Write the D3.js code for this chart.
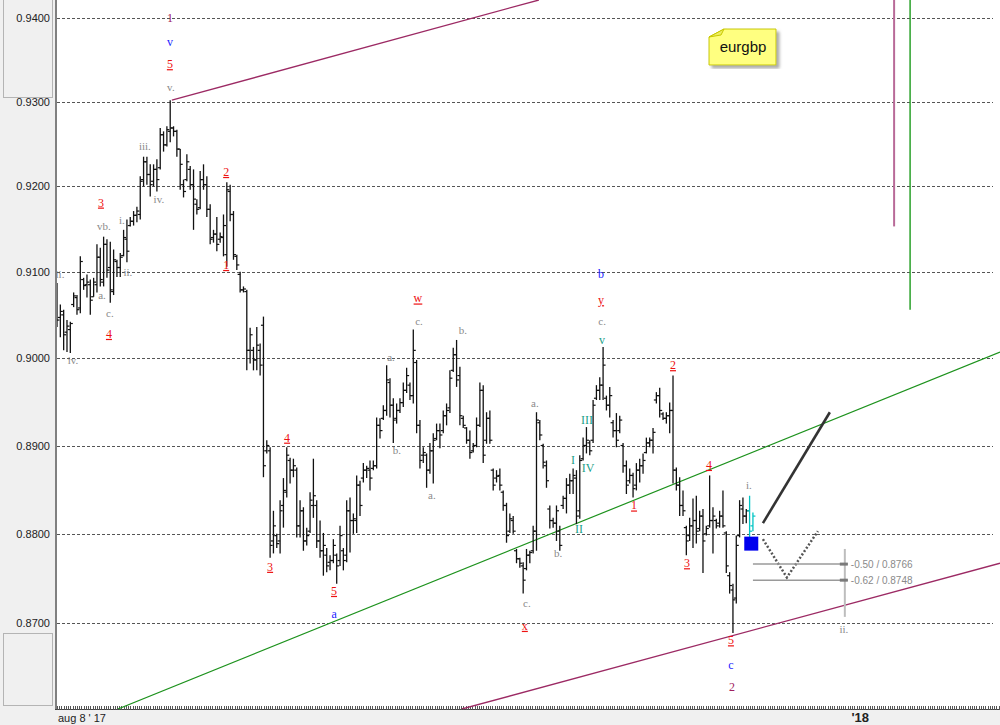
<!DOCTYPE html>
<html><head><meta charset="utf-8">
<script src="https://cdn.jsdelivr.net/npm/d3@7"></script>
<style>html,body{margin:0;padding:0;background:#fff;} svg{display:block;}</style>
</head><body><svg id="c" width="1000" height="725"></svg>
<script>
// ---------- DATA ----------
const symbol = "eurgbp";
const highs = [
0.9087,0.9062,0.9056,0.9044,0.9042,0.9076,0.9073,0.9118,0.9093,0.9097,
0.9091,0.9093,0.9132,0.9128,0.9141,0.9138,0.9135,0.9126,0.9114,0.9122,
0.9149,0.9161,0.9164,0.9171,0.9176,0.9212,0.9235,0.9235,0.9226,0.9226,
0.9232,0.9269,0.9265,0.9271,0.9302,0.9271,0.9267,0.9244,0.9208,0.9238,
0.9224,0.9220,0.9185,0.9218,0.9226,0.9212,0.9179,0.9149,0.9164,0.9146,
0.9167,0.9205,0.9202,0.9171,0.9120,0.9100,0.9083,0.9079,0.9035,0.9013,
0.9036,0.9017,0.9048,0.8906,0.8898,0.8826,0.8800,0.8838,0.8863,0.8898,
0.8886,0.8885,0.8875,0.8838,0.8830,0.8807,0.8847,0.8885,0.8838,0.8815,
0.8801,0.8784,0.8776,0.8794,0.8778,0.8809,0.8784,0.8838,0.8841,0.8823,
0.8866,0.8860,0.8880,0.8877,0.8883,0.8883,0.8932,0.8931,0.8946,0.8992,
0.8977,0.8954,0.8948,0.8954,0.8972,0.8989,0.8972,0.9033,0.8998,0.8929,
0.8898,0.8891,0.8903,0.8914,0.8925,0.8925,0.8940,0.8948,0.8986,0.9012,
0.9021,0.8990,0.8934,0.8921,0.8917,0.8903,0.8932,0.8972,0.8969,0.8938,
0.8940,0.8874,0.8872,0.8874,0.8849,0.8835,0.8823,0.8820,0.8783,0.8773,
0.8768,0.8783,0.8781,0.8809,0.8938,0.8929,0.8902,0.8883,0.8832,0.8818,
0.8832,0.8809,0.8843,0.8863,0.8868,0.8874,0.8872,0.8889,0.8909,0.8921,
0.8906,0.8952,0.8969,0.8978,0.9013,0.8957,0.8967,0.8929,0.8937,0.8934,
0.8903,0.8883,0.8874,0.8869,0.8880,0.8885,0.8891,0.8909,0.8909,0.8920,
0.8961,0.8966,0.8938,0.8938,0.8949,0.8980,0.8875,0.8864,0.8849,0.8809,
0.8818,0.8840,0.8843,0.8826,0.8828,0.8809,0.8866,0.8830,0.8817,0.8826,
0.8849,0.8803,0.8757,0.8744,0.8798,0.8838,0.8841,0.8828,0.8843,0.8824];
const lows = [
0.9036,0.9024,0.9009,0.9007,0.9006,0.9059,0.9050,0.9052,0.9079,0.9070,
0.9050,0.9071,0.9076,0.9083,0.9083,0.9093,0.9064,0.9073,0.9094,0.9094,
0.9118,0.9111,0.9153,0.9154,0.9158,0.9161,0.9200,0.9202,0.9188,0.9200,
0.9194,0.9220,0.9241,0.9247,0.9252,0.9259,0.9235,0.9196,0.9187,0.9206,
0.9196,0.9149,0.9167,0.9173,0.9196,0.9164,0.9132,0.9134,0.9124,0.9134,
0.9118,0.9106,0.9159,0.9114,0.9102,0.9076,0.9076,0.8986,0.8994,0.8986,
0.8986,0.8980,0.8864,0.8891,0.8773,0.8778,0.8784,0.8778,0.8807,0.8841,
0.8857,0.8864,0.8796,0.8796,0.8781,0.8787,0.8801,0.8818,0.8784,0.8773,
0.8753,0.8757,0.8759,0.8767,0.8744,0.8764,0.8759,0.8768,0.8779,0.8800,
0.8801,0.8820,0.8858,0.8863,0.8849,0.8872,0.8874,0.8908,0.8929,0.8934,
0.8932,0.8903,0.8925,0.8937,0.8944,0.8960,0.8952,0.8948,0.8914,0.8874,
0.8880,0.8852,0.8868,0.8857,0.8906,0.8897,0.8914,0.8923,0.8937,0.8984,
0.8967,0.8923,0.8920,0.8902,0.8885,0.8892,0.8898,0.8921,0.8880,0.8902,
0.8902,0.8849,0.8858,0.8849,0.8826,0.8790,0.8801,0.8800,0.8767,0.8762,
0.8733,0.8759,0.8767,0.8778,0.8781,0.8906,0.8874,0.8852,0.8806,0.8807,
0.8792,0.8781,0.8828,0.8823,0.8845,0.8845,0.8811,0.8817,0.8883,0.8891,
0.8889,0.8903,0.8952,0.8952,0.8952,0.8940,0.8932,0.8909,0.8898,0.8914,
0.8869,0.8845,0.8857,0.8841,0.8849,0.8858,0.8868,0.8891,0.8898,0.8891,
0.8948,0.8932,0.8929,0.8925,0.8914,0.8857,0.8849,0.8820,0.8820,0.8776,
0.8792,0.8784,0.8789,0.8803,0.8756,0.8798,0.8807,0.8778,0.8806,0.8807,
0.8807,0.8756,0.8733,0.8689,0.8722,0.8796,0.8811,0.8812,0.8789,0.8803];
const opens = [
0.9067,0.9047,0.9050,0.9030,0.9033,0.9062,0.9070,0.9058,0.9091,0.9085,
0.9085,0.9071,0.9085,0.9117,0.9088,0.9132,0.9105,0.9077,0.9112,0.9105,
0.9119,0.9138,0.9154,0.9159,0.9166,0.9167,0.9208,0.9229,0.9214,0.9206,
0.9220,0.9222,0.9261,0.9249,0.9265,0.9269,0.9265,0.9244,0.9202,0.9208,
0.9220,0.9202,0.9179,0.9175,0.9208,0.9202,0.9173,0.9140,0.9144,0.9138,
0.9140,0.9120,0.9194,0.9167,0.9118,0.9097,0.9079,0.9077,0.9009,0.9009,
0.8998,0.9009,0.9038,0.8894,0.8894,0.8792,0.8798,0.8792,0.8832,0.8847,
0.8883,0.8872,0.8872,0.8809,0.8826,0.8792,0.8803,0.8832,0.8832,0.8792,
0.8781,0.8776,0.8768,0.8770,0.8776,0.8770,0.8781,0.8776,0.8826,0.8815,
0.8815,0.8855,0.8863,0.8872,0.8872,0.8874,0.8877,0.8923,0.8931,0.8940,
0.8972,0.8946,0.8931,0.8940,0.8949,0.8963,0.8969,0.8957,0.8995,0.8923,
0.8889,0.8889,0.8872,0.8894,0.8908,0.8917,0.8917,0.8934,0.8943,0.8986,
0.9004,0.8980,0.8931,0.8920,0.8906,0.8894,0.8900,0.8923,0.8963,0.8906,
0.8931,0.8872,0.8863,0.8866,0.8847,0.8832,0.8803,0.8815,0.8781,0.8772,
0.8764,0.8761,0.8776,0.8781,0.8803,0.8926,0.8900,0.8877,0.8828,0.8815,
0.8812,0.8803,0.8832,0.8840,0.8855,0.8860,0.8863,0.8826,0.8885,0.8900,
0.8903,0.8906,0.8954,0.8963,0.8969,0.8954,0.8946,0.8926,0.8917,0.8917,
0.8900,0.8877,0.8860,0.8866,0.8855,0.8872,0.8877,0.8892,0.8903,0.8906,
0.8952,0.8957,0.8936,0.8931,0.8934,0.8940,0.8872,0.8855,0.8832,0.8807,
0.8798,0.8809,0.8815,0.8806,0.8820,0.8800,0.8809,0.8815,0.8815,0.8812,
0.8820,0.8801,0.8753,0.8737,0.8728,0.8798,0.8828,0.8820,0.8826,0.8809];
const closes = [
0.9044,0.9054,0.9027,0.9037,0.9040,0.9072,0.9056,0.9112,0.9084,0.9088,
0.9067,0.9088,0.9117,0.9091,0.9132,0.9102,0.9079,0.9114,0.9105,0.9117,
0.9140,0.9124,0.9159,0.9166,0.9171,0.9206,0.9229,0.9214,0.9202,0.9220,
0.9208,0.9261,0.9249,0.9267,0.9269,0.9265,0.9244,0.9226,0.9194,0.9229,
0.9202,0.9185,0.9173,0.9208,0.9202,0.9173,0.9138,0.9144,0.9132,0.9141,
0.9154,0.9196,0.9167,0.9120,0.9108,0.9079,0.9080,0.9009,0.9027,0.8998,
0.9015,0.8992,0.8877,0.8900,0.8787,0.8809,0.8789,0.8826,0.8849,0.8889,
0.8872,0.8877,0.8809,0.8826,0.8792,0.8798,0.8838,0.8843,0.8792,0.8781,
0.8787,0.8764,0.8770,0.8787,0.8764,0.8798,0.8770,0.8826,0.8815,0.8817,
0.8855,0.8832,0.8872,0.8874,0.8863,0.8877,0.8923,0.8917,0.8940,0.8975,
0.8946,0.8929,0.8940,0.8949,0.8963,0.8980,0.8957,0.9009,0.8923,0.8883,
0.8892,0.8872,0.8894,0.8906,0.8917,0.8912,0.8934,0.8940,0.8977,0.9004,
0.8975,0.8934,0.8923,0.8906,0.8892,0.8900,0.8923,0.8963,0.8889,0.8931,
0.8906,0.8855,0.8865,0.8855,0.8832,0.8798,0.8817,0.8803,0.8772,0.8767,
0.8748,0.8776,0.8779,0.8803,0.8929,0.8912,0.8881,0.8860,0.8815,0.8812,
0.8826,0.8787,0.8840,0.8855,0.8860,0.8866,0.8820,0.8883,0.8900,0.8906,
0.8894,0.8946,0.8963,0.8969,0.8992,0.8946,0.8957,0.8917,0.8906,0.8929,
0.8877,0.8855,0.8866,0.8851,0.8872,0.8877,0.8883,0.8903,0.8906,0.8915,
0.8957,0.8940,0.8931,0.8934,0.8940,0.8872,0.8855,0.8832,0.8826,0.8792,
0.8809,0.8815,0.8803,0.8820,0.8792,0.8806,0.8815,0.8820,0.8809,0.8820,
0.8809,0.8764,0.8742,0.8726,0.8787,0.8832,0.8820,0.8826,0.8803,0.8820];
const highlightedBars = [208, 209];   // current (cyan) bars

const priceTicks = [0.9400,0.9300,0.9200,0.9100,0.9000,0.8900,0.8800,0.8700];
const timeTickIndex = [0, 238.3];
const timeTickLabels = ["aug 8 ' 17", "'18"];

// Elliott wave labels: text, bar index, price, degree
const waveText   = ["1","v","5","v.","iii.","iv.","3","vb.","i.","ii.","ii.","a.","c.","4","iv.",
  "2","1","4","3","5","a","a.","b.","w","c.","b.","a.","a.","c.","x","b.",
  "b","y","c.","v","III","I","IV","II","1","2","4","3","i.","5","c","2","ii."];
const waveIndex  = [33.9,33.9,33.9,34.2,26.4,30.6,13.2,14.1,19.5,21.3,0.9,13.5,15.9,15.6,4.8,
  50.8,50.8,69.1,64.0,83.2,83.2,100.3,102.1,108.4,108.7,121.9,112.6,143.5,141.1,140.5,150.5,
  163.4,163.4,163.7,163.7,159.2,155.0,159.5,156.8,173.3,185.0,195.8,189.2,207.8,202.4,202.4,202.7,236.3];
const wavePrice  = [0.9400,0.9371,0.9345,0.9318,0.9248,0.9185,0.9181,0.9153,0.9161,0.9100,0.9098,0.9073,0.9052,0.9028,0.8998,
  0.9217,0.9108,0.8909,0.8763,0.8736,0.8710,0.9001,0.8895,0.9069,0.9043,0.9033,0.8844,0.8948,0.8722,0.8697,0.8779,
  0.9097,0.9067,0.9043,0.9021,0.8929,0.8883,0.8875,0.8805,0.8832,0.8992,0.8878,0.8767,0.8855,0.8681,0.8654,0.8629,0.8693];
const waveDegree = ["primary","intermediate","minor","minute","minute","minute","minor","minute","minute","minute","minute","minute","minute","minor","minute",
  "minor","minor","minor","minor","minor","intermediate","minute","minute","minor","minute","minute","minute","minute","minute","minor","minute",
  "intermediate","minor","minute","sub","sub","sub","sub","sub","minor","minor","minor","minor","minute","minor","intermediate","primary","minute"];

// trend lines: [bar index, price] anchors
const channelUpper = [[34.5,0.9302],[144.7,0.9422]];
const channelLower = [[121.6,0.8605],[283.2,0.8767]];
const greenLine    = [[18.3,0.8605],[283.2,0.9007]];
const timeMarkPurple = [[251.4,0.9422],[251.4,0.9153]];
const timeMarkGreen  = [[256.2,0.9422],[256.2,0.9056]];
const projection   = [[212.0,0.8812],[232.1,0.8938]];
const zigzag       = [[212.0,0.8794],[219.2,0.8751],[228.5,0.8803]];
const fibRatios = [-0.50, -0.62];
const fibPrices = [0.8766, 0.8748];
const fibSpan   = [209, 237.5];
const fibVertical = [[236.6,0.8783],[236.6,0.8707]];
const markerBox = [208.5, 0.8789];

// ---------- CHART ----------
const svg = d3.select("#c");
const x = d3.scaleLinear().domain([0,283.2]).range([57,1000]);
const y = d3.scaleLog().domain([0.8605,0.9422]).range([709,0]);

svg.append("rect").attr("width",1000).attr("height",725).attr("fill","#fff");
// left & bottom panels
svg.append("rect").attr("x",0).attr("y",0).attr("width",55).attr("height",725).attr("fill","#f0f0f0");
svg.append("rect").attr("x",0).attr("y",710).attr("width",1000).attr("height",15).attr("fill","#f0f0f0");
svg.append("rect").attr("x",3.5).attr("y",-1).attr("width",49).attr("height",98.5).attr("fill","#f0f0f0").attr("stroke","#b4b4b4");
svg.append("rect").attr("x",3.5).attr("y",633.5).attr("width",49).attr("height",72).attr("fill","#f0f0f0").attr("stroke","#b4b4b4");

const defs = svg.append("defs");
defs.append("clipPath").attr("id","plot").append("rect").attr("x",57).attr("y",0).attr("width",943).attr("height",709);
defs.append("filter").attr("id","sh").append("feDropShadow").attr("dx",3).attr("dy",3).attr("stdDeviation",1.5).attr("flood-color","#888").attr("flood-opacity",0.7);

// grid
svg.append("g").selectAll("line").data(priceTicks).join("line")
  .attr("x1",57).attr("x2",993)
  .attr("y1",d=>Math.round(y(d))+0.5).attr("y2",d=>Math.round(y(d))+0.5)
  .attr("stroke","#555").attr("stroke-dasharray","3,2");
svg.append("g").selectAll("text").data(priceTicks).join("text")
  .attr("x",50).attr("y",d=>y(d)+4).attr("text-anchor","end")
  .attr("font-family","Liberation Sans, Arial, sans-serif").attr("font-size",11).attr("fill","#222")
  .text(d=>d.toFixed(4));

// axes lines
svg.append("line").attr("x1",56).attr("x2",56).attr("y1",0).attr("y2",710).attr("stroke","#808080").attr("stroke-width",2);
svg.append("line").attr("x1",55).attr("x2",1000).attr("y1",709.5).attr("y2",709.5).attr("stroke","#444");
svg.append("g").selectAll("line").data(d3.range(0,283,0.667)).join("line")
  .attr("x1",d=>Math.round(x(d))+0.5).attr("x2",d=>Math.round(x(d))+0.5)
  .attr("y1",706).attr("y2",710).attr("stroke","#555");
svg.append("g").selectAll("text").data(timeTickIndex).join("text")
  .attr("x",d=>x(d)+1).attr("y",722)
  .attr("font-family","Liberation Sans, Arial, sans-serif").attr("font-size",(d,i)=>i===1?13:11)
  .attr("font-weight",(d,i)=>i===1?"bold":"normal").attr("fill","#222")
  .text((d,i)=>timeTickLabels[i]);

const plot = svg.append("g").attr("clip-path","url(#plot)");
const line = d3.line().x(d=>x(d[0])).y(d=>y(d[1]));

// trend lines
plot.append("path").attr("d",line(channelUpper)).attr("stroke","#9c2a64").attr("stroke-width",1.3).attr("fill","none");
plot.append("path").attr("d",line(channelLower)).attr("stroke","#9c2a64").attr("stroke-width",1.3).attr("fill","none");
plot.append("path").attr("d",line(greenLine)).attr("stroke","#1d921d").attr("stroke-width",1.2).attr("fill","none");
plot.append("path").attr("d",line(timeMarkPurple)).attr("stroke","#b86a98").attr("stroke-width",2).attr("fill","none");
plot.append("path").attr("d",line(timeMarkGreen)).attr("stroke","#2aa02a").attr("stroke-width",1.5).attr("fill","none");

// bars
const bars = d3.range(highs.length);
const bg = plot.append("g");
bars.forEach(i=>{
  const col = highlightedBars.includes(i) ? "#00c4c4" : "#111";
  const cx = x(i);
  bg.append("line").attr("x1",cx).attr("x2",cx).attr("y1",y(highs[i])).attr("y2",y(lows[i])).attr("stroke",col).attr("stroke-width",1.3);
  bg.append("line").attr("x1",cx-2.5).attr("x2",cx).attr("y1",y(opens[i])).attr("y2",y(opens[i])).attr("stroke",col).attr("stroke-width",1.2);
  bg.append("line").attr("x1",cx).attr("x2",cx+2.5).attr("y1",y(closes[i])).attr("y2",y(closes[i])).attr("stroke",col).attr("stroke-width",1.2);
});

// marker square
plot.append("rect").attr("x",x(markerBox[0])-7).attr("y",y(markerBox[1])-7).attr("width",14).attr("height",14).attr("fill","#0000ee");

// projection & zigzag
plot.append("path").attr("d",line(projection)).attr("stroke","#333").attr("stroke-width",2.6).attr("fill","none");
plot.append("path").attr("d",line(zigzag)).attr("stroke","#555").attr("stroke-width",2.5).attr("stroke-dasharray","2,2").attr("fill","none");

// fib
plot.append("path").attr("d",line(fibVertical)).attr("stroke","#bdbdbd").attr("stroke-width",2).attr("fill","none");
fibPrices.forEach((p,k)=>{
  plot.append("line").attr("x1",x(fibSpan[0])).attr("x2",x(fibSpan[1])).attr("y1",y(p)).attr("y2",y(p)).attr("stroke","#9a9a9a").attr("stroke-width",1.5);
  plot.append("rect").attr("x",x(fibSpan[1])-8).attr("y",y(p)-1.5).attr("width",8).attr("height",3).attr("fill","#7a7a7a");
  plot.append("text").attr("x",x(fibSpan[1])+3).attr("y",y(p)+3.5)
    .attr("font-family","Liberation Sans, Arial, sans-serif").attr("font-size",10).attr("fill","#8a8a8a")
    .text(fibRatios[k].toFixed(2)+" / "+p.toFixed(4));
});

// wave labels
const degColor = {primary:"#a0205e", intermediate:"#1a1aff", minor:"#ee1111", minute:"#8a8a8a", sub:"#1aa088"};
plot.append("g").selectAll("text").data(waveText).join("text")
  .attr("x",(d,i)=>x(waveIndex[i])).attr("y",(d,i)=>y(wavePrice[i])+4)
  .attr("text-anchor","middle")
  .attr("font-family","Liberation Serif, Times New Roman, serif")
  .attr("font-size",(d,i)=>waveDegree[i]==="minute"?11:12)
  .attr("fill",(d,i)=>degColor[waveDegree[i]])
  .attr("text-decoration",(d,i)=>waveDegree[i]==="minor"?"underline":null)
  .text(d=>d);

// legend note
const lg = svg.append("g").attr("transform","translate(709,29)");
lg.append("path").attr("d","M15,0 H67 V36 H0 V8 Z").attr("fill","#ffff80").attr("stroke","#c8c800").attr("filter","url(#sh)");
lg.append("path").attr("d","M0,8 L15,0 L12,6 Z").attr("fill","#eeee60").attr("stroke","#c8c800");
lg.append("text").attr("x",34).attr("y",23).attr("text-anchor","middle")
  .attr("font-family","Liberation Sans, Arial, sans-serif").attr("font-size",15).attr("fill","#111").text(symbol);
</script></body></html>
